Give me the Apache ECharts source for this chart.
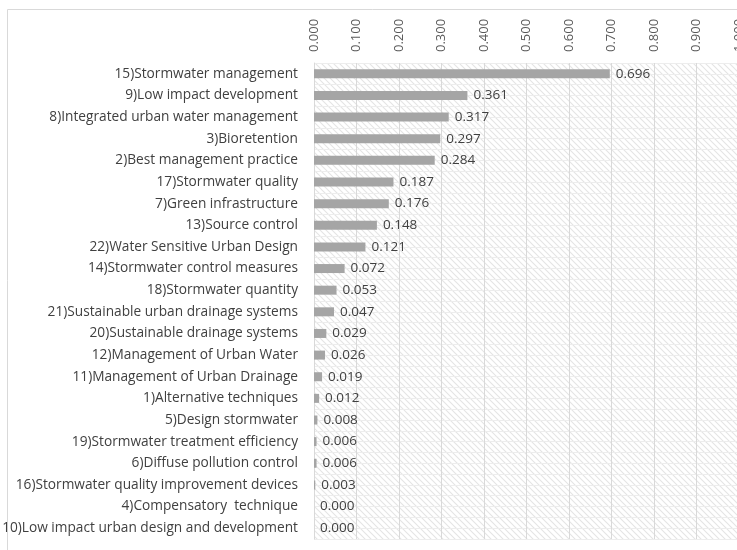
<!DOCTYPE html>
<html>
<head>
<meta charset="utf-8">
<script src="https://cdn.jsdelivr.net/npm/echarts@6/dist/echarts.min.js"></script>
<style>html,body{margin:0;padding:0;background:#fff}#c{width:737px;height:550px}</style>
</head>
<body>
<div id="c"></div>
<script>
var categories = [
  "15)Stormwater management",
  "9)Low impact development",
  "8)Integrated urban water management",
  "3)Bioretention",
  "2)Best management practice",
  "17)Stormwater quality",
  "7)Green infrastructure",
  "13)Source control",
  "22)Water Sensitive Urban Design",
  "14)Stormwater control measures",
  "18)Stormwater quantity",
  "21)Sustainable urban drainage systems",
  "20)Sustainable drainage systems",
  "12)Management of Urban Water",
  "11)Management of Urban Drainage",
  "1)Alternative techniques",
  "5)Design stormwater",
  "19)Stormwater treatment efficiency",
  "6)Diffuse pollution control",
  "16)Stormwater quality improvement devices",
  "4)Compensatory  technique",
  "10)Low impact urban design and development"
];
var values = [0.696, 0.361, 0.317, 0.297, 0.284, 0.187, 0.176, 0.148, 0.121, 0.072, 0.053, 0.047, 0.029, 0.026, 0.019, 0.012, 0.008, 0.006, 0.006, 0.003, 0.000, 0.000];
var axisMin = 0, axisMax = 1, axisStep = 0.1;

// hatched pattern
var pc = document.createElement('canvas');
pc.width = 6; pc.height = 6;
var g = pc.getContext('2d');
g.fillStyle = '#ffffff'; g.fillRect(0,0,6,6);
g.strokeStyle = '#e4e4e4'; g.lineWidth = 1.1;
g.beginPath();
g.moveTo(-1,-1); g.lineTo(7,7);
g.moveTo(-4,2); g.lineTo(4,10);
g.moveTo(2,-4); g.lineTo(10,4);
g.stroke();

var chart = echarts.init(document.getElementById('c'), null, {renderer:'canvas'});
var font = '"Open Sans", Lato, sans-serif';
chart.setOption({
  animation: false,
  graphic: [{
    type: 'rect', shape: {x: 7.5, y: 9.5, width: 740, height: 560},
    style: {fill: 'none', stroke: '#d9d9d9', lineWidth: 1}, z: -10
  }],
  grid: {
    left: 314, top: 63, width: 425, height: 476, containLabel: false,
    outerBoundsMode: 'none',
    show: true, backgroundColor: {image: pc, repeat: 'repeat'}, borderWidth: 0
  },
  xAxis: {
    type: 'value', position: 'top', min: axisMin, max: axisMax, interval: axisStep,
    axisLine: {show: false}, axisTick: {show: false},
    splitLine: {show: true, lineStyle: {color: '#d9d9d9', width: 1}},
    axisLabel: {
      rotate: 90, margin: 11, color: '#595959', fontFamily: font, fontSize: 13,
      hideOverlap: false,
      formatter: function (v) { return v.toFixed(3); }
    }
  },
  yAxis: [{
    type: 'category', data: categories, inverse: true,
    axisLine: {show: true, lineStyle: {color: '#d9d9d9'}},
    axisTick: {show: false},
    splitLine: {show: true, lineStyle: {color: '#ebebeb'}},
    axisLabel: {color: '#404040', fontFamily: font, fontSize: 13.7, margin: 16}
  }, {
    type: 'value', min: 0, max: 44, interval: 1, position: 'right',
    axisLine: {show: false}, axisTick: {show: false}, axisLabel: {show: false},
    splitLine: {show: true, lineStyle: {color: '#ededed'}}
  }],
  series: [{
    type: 'bar', data: values, barWidth: 9, yAxisIndex: 0,
    itemStyle: {color: '#a5a5a5'},
    label: {
      show: true, position: 'right', distance: 6, color: '#404040',
      fontFamily: font, fontSize: 13.5,
      formatter: function (p) { return p.value.toFixed(3); }
    }
  }]
});
</script>
</body>
</html>
